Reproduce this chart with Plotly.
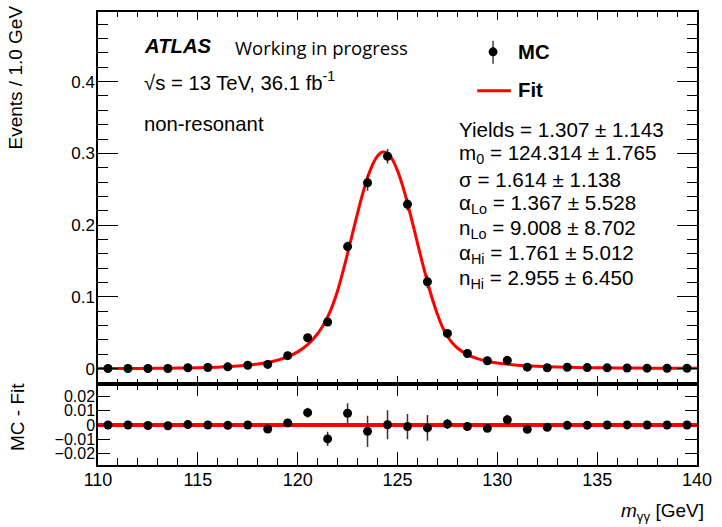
import plotly.graph_objects as go

# ---------------- data ----------------
bin_centers = [110.5, 111.5, 112.5, 113.5, 114.5, 115.5, 116.5, 117.5, 118.5, 119.5,
               120.5, 121.5, 122.5, 123.5, 124.5, 125.5, 126.5, 127.5, 128.5, 129.5,
               130.5, 131.5, 132.5, 133.5, 134.5, 135.5, 136.5, 137.5, 138.5, 139.5]

mc_values = [0.0002, 0.0002, 0.0001, 0.0001, 0.0012, 0.0015, 0.0024, 0.0047, 0.0058, 0.018,
             0.043, 0.065, 0.170, 0.259, 0.296, 0.229, 0.121, 0.049, 0.021, 0.011,
             0.0115, 0.002, 0.0012, 0.0018, 0.0014, 0.0010, 0.0008, 0.0006, 0.0005, 0.0004]

mc_errors = [0.0006, 0.0006, 0.0006, 0.0006, 0.0008, 0.0008, 0.0010, 0.0012, 0.0015, 0.0020,
             0.0035, 0.0050, 0.0070, 0.0110, 0.0102, 0.0088, 0.0090, 0.0035, 0.0020, 0.0020,
             0.0035, 0.0015, 0.0010, 0.0010, 0.0008, 0.0008, 0.0006, 0.0006, 0.0006, 0.0006]

residuals = [0.0, 0.0, -0.0003, -0.0005, 0.0003, 0.0, -0.0002, 0.0, -0.0028, 0.0014,
             0.0087, -0.0097, 0.0083, -0.0044, 0.0002, -0.0011, -0.0020, 0.0007, -0.0010, -0.0023,
             0.0037, -0.0030, -0.0016, -0.0002, -0.0001, 0.0, 0.0001, 0.0, 0.0, 0.0]

fit_x = [110, 111, 112, 113, 114, 115, 116, 117, 118, 118.5, 119, 119.5, 120, 120.5, 121,
         121.25, 121.5, 121.75, 122, 122.25, 122.5, 122.75, 123, 123.25, 123.5, 123.75,
         124, 124.25, 124.5, 124.75, 125, 125.25, 125.5, 125.75, 126, 126.25, 126.5,
         126.75, 127, 127.25, 127.5, 127.75, 128, 128.5, 129, 129.5, 130, 131, 132, 133,
         134, 135, 136, 137, 138, 139, 140]
fit_y = [0.00013, 0.00019, 0.00029, 0.00045, 0.00072, 0.00118, 0.00199, 0.00347, 0.00626,
         0.00855, 0.0118, 0.0165, 0.0233, 0.0334, 0.0486, 0.0590, 0.0719, 0.0881, 0.1084,
         0.1333, 0.1606, 0.1888, 0.2168, 0.2430, 0.2659, 0.2841, 0.2963, 0.3018, 0.3000,
         0.2912, 0.2759, 0.2553, 0.2305, 0.2033, 0.1750, 0.1471, 0.1207, 0.0967, 0.0756,
         0.0579, 0.0450, 0.0357, 0.0287, 0.0195, 0.0138, 0.0102, 0.0077, 0.0047, 0.0031,
         0.00214, 0.00155, 0.00115, 0.00088, 0.00069, 0.00055, 0.00045, 0.00037]

param_lines = [
    "Yields = 1.307 ± 1.143",
    "m<sub>0</sub> = 124.314 ± 1.765",
    "σ = 1.614 ± 1.138",
    "α<sub>Lo</sub> = 1.367 ± 5.528",
    "n<sub>Lo</sub> = 9.008 ± 8.702",
    "α<sub>Hi</sub> = 1.761 ± 5.012",
    "n<sub>Hi</sub> = 2.955 ± 6.450",
]

FONT = "Liberation Sans, Arial, Helvetica, sans-serif"
TXT = 20.3

# ---------------- geometry helpers (pixels -> paper) ----------------
W, H = 722, 527
ML, MR, MT, MB = 98, 19, 10, 62
PW, PH = W - ML - MR, H - MT - MB


def px(x):
    return (x - ML) / PW


def py(y):
    return (H - MB - y) / PH


split = py(383.3)

fig = go.Figure()

fig.add_trace(go.Scatter(
    x=fit_x, y=fit_y, mode="lines", name="Fit",
    line=dict(color="#ff0000", width=3, shape="spline", smoothing=0.6),
    xaxis="x", yaxis="y", showlegend=False, hoverinfo="skip"))

fig.add_trace(go.Scatter(
    x=bin_centers, y=mc_values, mode="markers", name="MC",
    marker=dict(color="black", size=9),
    error_y=dict(type="data", array=mc_errors, color="#333333", thickness=1.5, width=0),
    xaxis="x", yaxis="y", showlegend=False))

fig.add_shape(type="line", xref="x2 domain", yref="y2", x0=0, x1=1, y0=0, y1=0,
              line=dict(color="#ff0000", width=4), layer="below")

fig.add_trace(go.Scatter(
    x=bin_centers, y=residuals, mode="markers", name="MC - Fit",
    marker=dict(color="black", size=9),
    error_y=dict(type="data", array=mc_errors, color="#333333", thickness=1.5, width=0),
    xaxis="x2", yaxis="y2", showlegend=False))

axis_common = dict(showline=True, linecolor="black", linewidth=1.5, mirror="allticks",
                   ticks="inside", tickcolor="black", tickwidth=1.2, showgrid=False,
                   zeroline=False)

fig.update_layout(
    width=W, height=H,
    margin=dict(l=ML, r=MR, t=MT, b=MB),
    paper_bgcolor="white", plot_bgcolor="white",
    font=dict(family=FONT, color="black"),
    xaxis=dict(domain=[0, 1], anchor="y", range=[110, 140], tick0=110, dtick=5,
               ticklen=8, showticklabels=False,
               minor=dict(dtick=1, ticklen=5, ticks="inside", tickcolor="black", tickwidth=1),
               **axis_common),
    yaxis=dict(domain=[split, 1], anchor="x", range=[-0.021, 0.497], tick0=0, dtick=0.1,
               ticklen=20, ticklabelstandoff=-2,
               tickfont=dict(family=FONT, size=17, color="black"),
               minor=dict(dtick=0.02, ticklen=10, ticks="inside", tickcolor="black", tickwidth=1),
               **axis_common),
    xaxis2=dict(domain=[0, 1], anchor="y2", range=[110, 140], tick0=110, dtick=5,
                ticklen=13, ticklabelstandoff=-2,
                tickfont=dict(family=FONT, size=18, color="black"),
                minor=dict(dtick=1, ticklen=7, ticks="inside", tickcolor="black", tickwidth=1),
                **axis_common),
    yaxis2=dict(domain=[0, split], anchor="x2", range=[-0.028, 0.029], tick0=0, dtick=0.01,
                ticklen=12, ticklabelstandoff=-2,
                tickfont=dict(family=FONT, size=16, color="black"),
                **axis_common),
)


def label(text, x, y, size=TXT, family=FONT, xanchor="left", angle=0):
    return dict(text=text, x=px(x), y=py(y), xref="paper", yref="paper",
                showarrow=False, xanchor=xanchor, yanchor="middle", textangle=angle,
                font=dict(family=family, size=size, color="black"))


ann = []
# axis titles
ann.append(label("Events / 1.0 GeV", 15, 76, size=19, xanchor="center", angle=-90))
ann.append(label("MC - Fit", 16, 417, size=19, xanchor="center", angle=-90))
ann.append(label("<i>m</i><sub>γγ</sub> [GeV]", 712, 512, size=19, xanchor="right"))
# labels
ann.append(label("<b><i>ATLAS</i></b>", 142, 44))
ann.append(label("Working in progress", 234, 46, size=18.5, family="Open Sans, Lato, sans-serif"))
ann.append(label("√s = 13 TeV, 36.1 fb<sup>-1</sup>", 142, 79))
ann.append(label("non-resonant", 142, 122))
# fit parameters
for i, line in enumerate(param_lines):
    ann.append(label(line, 461, 128 + 25 * i, size=20.6))
# legend texts
ann.append(label("<b>MC</b>", 520, 50))
ann.append(label("<b>Fit</b>", 520, 88))
fig.update_layout(annotations=ann)

# legend glyphs
r = 4.5
fig.add_shape(type="line", xref="paper", yref="paper", x0=px(497), x1=px(497),
              y0=py(39), y1=py(62), line=dict(color="#444444", width=1.5))
fig.add_shape(type="circle", xref="paper", yref="paper", x0=px(497 - r), x1=px(497 + r),
              y0=py(50 + r), y1=py(50 - r), fillcolor="black", line=dict(color="black", width=0))
fig.add_shape(type="line", xref="paper", yref="paper", x0=px(481), x1=px(515),
              y0=py(89), y1=py(89), line=dict(color="#ff0000", width=3))

fig.write_html("out.html")
